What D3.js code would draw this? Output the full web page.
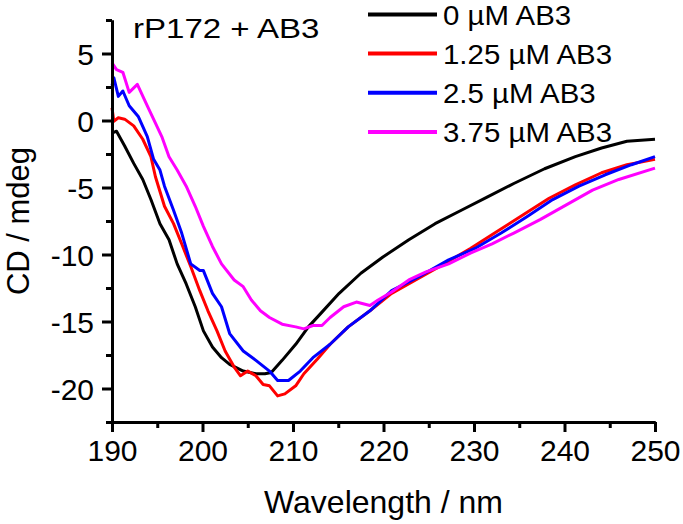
<!DOCTYPE html>
<html>
<head>
<meta charset="utf-8">
<script src="https://cdn.jsdelivr.net/npm/d3@7"></script>
<style>
  html, body { margin: 0; padding: 0; background: #fff; }
  svg { display: block; font-family: "Liberation Sans", Arial, sans-serif; }
</style>
</head>
<body>
<svg id="chart" width="683" height="524"></svg>
<script>
// ---------- data ----------
const seriesNames = ["0 \u00B5M AB3", "1.25 \u00B5M AB3", "2.5 \u00B5M AB3", "3.75 \u00B5M AB3"];
const seriesColors = ["#000000", "#ff0000", "#0000ff", "#ff00ff"];

const wl0 = [190.1,190.5,191.4,192.4,193.4,194.3,195.3,196.3,197.2,198.2,199.2,200.1,201.1,202.1,203.0,204.5,205.9,206.9,207.6,208.8,210.3,211.7,213.2,215.1,217.5,219.9,222.8,225.7,228.6,231.5,234.4,237.8,241.2,244.1,246.9,250];
const cd0 = [-0.9,-0.8,-1.9,-3.2,-4.4,-5.9,-7.7,-8.9,-10.7,-12.2,-13.9,-15.7,-16.9,-17.7,-18.2,-18.7,-18.9,-18.9,-18.8,-17.9,-16.7,-15.4,-14.3,-12.9,-11.4,-10.2,-8.9,-7.7,-6.7,-5.7,-4.7,-3.6,-2.7,-2.05,-1.55,-1.4];

const wl1 = [190.0,190.2,190.7,191.4,192.4,193.4,194.3,194.8,195.8,196.8,197.7,198.7,199.7,200.6,201.6,202.5,203.5,204.2,205.0,205.9,206.7,207.4,208.3,209.1,210.3,211.2,212.7,214.1,216.1,218.5,220.9,223.8,226.7,229.6,232.5,235.4,238.3,241.2,244.1,246.9,250];
const cd1 = [0.95,-0.05,0.2,0.1,-0.4,-1.4,-2.7,-4.2,-6.4,-7.7,-9.2,-10.9,-12.7,-14.2,-15.7,-17.2,-18.4,-19.05,-18.7,-19.05,-19.7,-19.8,-20.55,-20.4,-19.8,-18.9,-17.8,-16.7,-15.4,-14.2,-12.9,-11.8,-10.7,-9.55,-8.3,-7.05,-5.8,-4.8,-3.9,-3.3,-2.9];

const wl2 = [190.0,190.2,190.7,191.2,191.9,192.9,193.9,194.6,195.3,195.8,196.8,197.7,198.7,199.7,200.1,201.1,202.1,203.0,204.5,205.9,207.4,208.3,209.5,210.8,212.2,214.1,216.1,218.5,220.9,223.8,227.2,230.1,233.0,235.8,238.7,241.6,244.5,247.4,250];
const cd2 = [2.6,3.2,1.8,2.2,1.1,0.3,-1.2,-2.9,-3.7,-4.9,-6.7,-8.4,-10.7,-11.2,-11.2,-12.9,-13.9,-15.9,-17.2,-17.9,-18.7,-19.4,-19.4,-18.7,-17.7,-16.7,-15.4,-14.2,-12.7,-11.7,-10.4,-9.55,-8.4,-7.2,-5.9,-4.9,-4.05,-3.3,-2.7];

const wl3 = [190.0,190.5,191.2,191.9,192.8,193.9,194.8,195.5,196.3,197.2,198.2,199.2,200.1,201.1,202.1,203.5,204.5,205.4,206.4,207.4,208.8,210.3,211.2,212.2,213.2,214.1,215.6,217.0,218.5,219.4,220.9,222.8,224.7,227.2,229.6,232.0,234.4,237.3,240.2,243.1,246.0,250];
const cd3 = [4.3,3.8,3.6,2.1,2.7,1.1,-0.2,-1.2,-2.7,-3.7,-4.9,-6.4,-7.9,-9.4,-10.7,-11.9,-12.4,-13.4,-14.2,-14.7,-15.2,-15.4,-15.55,-15.3,-15.3,-14.7,-13.9,-13.55,-13.8,-13.4,-12.8,-11.9,-11.3,-10.7,-9.9,-9.2,-8.4,-7.4,-6.3,-5.2,-4.4,-3.55];

const xTicks = [190, 200, 210, 220, 230, 240, 250];
const xMinorTicks = [195, 205, 215, 225, 235, 245];
const yTicks = [5, 0, -5, -10, -15, -20];
const yMinorTicks = [7.5, 2.5, -2.5, -7.5, -12.5, -17.5, -22.5];

const xTitle = "Wavelength / nm";
const yTitle = "CD / mdeg";
const annotation = "rP172 + AB3";

// ---------- drawing ----------
const svg = d3.select("#chart");
const plot = { left: 112, right: 655, top: 20, bottom: 422 };

const x = d3.scaleLinear().domain([190, 250]).range([plot.left, plot.right]);
const y = d3.scaleLinear().domain([-22.5, 7.5]).range([plot.bottom, plot.top]);

const series = [
  { wl: wl0, cd: cd0 },
  { wl: wl1, cd: cd1 },
  { wl: wl2, cd: cd2 },
  { wl: wl3, cd: cd3 }
];

const line = d3.line().x(d => x(d[0])).y(d => y(d[1]));

series.forEach((s, i) => {
  const pts = s.wl.map((w, k) => [w, s.cd[k]]);
  svg.append("path")
    .datum(pts)
    .attr("d", line)
    .attr("fill", "none")
    .attr("stroke", seriesColors[i])
    .attr("stroke-width", 3)
    .attr("stroke-linejoin", "round");
});

const fmt = d => String(d);

const gx = svg.append("g").attr("transform", `translate(0,${plot.bottom})`)
  .call(d3.axisBottom(x).tickValues(xTicks).tickFormat(fmt).tickSize(10).tickSizeOuter(0).tickPadding(8));
const gxm = svg.append("g").attr("transform", `translate(0,${plot.bottom})`)
  .call(d3.axisBottom(x).tickValues(xMinorTicks).tickFormat("").tickSize(6).tickSizeOuter(0));
const gy = svg.append("g").attr("transform", `translate(${plot.left},0)`)
  .call(d3.axisLeft(y).tickValues(yTicks).tickFormat(fmt).tickSize(10).tickSizeOuter(0).tickPadding(8));
const gym = svg.append("g").attr("transform", `translate(${plot.left},0)`)
  .call(d3.axisLeft(y).tickValues(yMinorTicks).tickFormat("").tickSize(6).tickSizeOuter(0));

[gx, gxm, gy, gym].forEach(g => {
  g.selectAll("path.domain").attr("stroke", "#000").attr("stroke-width", 3);
  g.selectAll(".tick line").attr("stroke", "#000").attr("stroke-width", 3);
  g.selectAll(".tick text").attr("fill", "#000").attr("font-size", 30)
    .attr("font-family", "'Liberation Sans', Arial, sans-serif");
});
gx.selectAll(".tick text").attr("dy", "0.71em");
gy.selectAll(".tick text").attr("dy", "0.36em");

// axis titles
svg.append("text")
  .attr("x", (plot.left + plot.right) / 2)
  .attr("y", 513)
  .attr("text-anchor", "middle")
  .attr("font-size", 32)
  .attr("fill", "#000")
  .text(xTitle);

svg.append("text")
  .attr("transform", `translate(29,${(plot.top + plot.bottom) / 2}) rotate(-90)`)
  .attr("text-anchor", "middle")
  .attr("font-size", 31)
  .attr("fill", "#000")
  .text(yTitle);

// annotation
svg.append("text")
  .attr("transform", "translate(133,38) scale(1.18,1)")
  .attr("font-size", 28)
  .attr("fill", "#000")
  .text(annotation);

// legend
const legendY = [14.5, 53.5, 92.8, 132];
const lg = svg.append("g");
seriesNames.forEach((name, i) => {
  lg.append("line")
    .attr("x1", 368).attr("x2", 437)
    .attr("y1", legendY[i]).attr("y2", legendY[i])
    .attr("stroke", seriesColors[i])
    .attr("stroke-width", 4);
  lg.append("text")
    .attr("transform", `translate(443,${legendY[i] + 10.3}) scale(1.09,1)`)
    .attr("font-size", 27)
    .attr("fill", "#000")
    .text(name);
});
</script>
</body>
</html>
